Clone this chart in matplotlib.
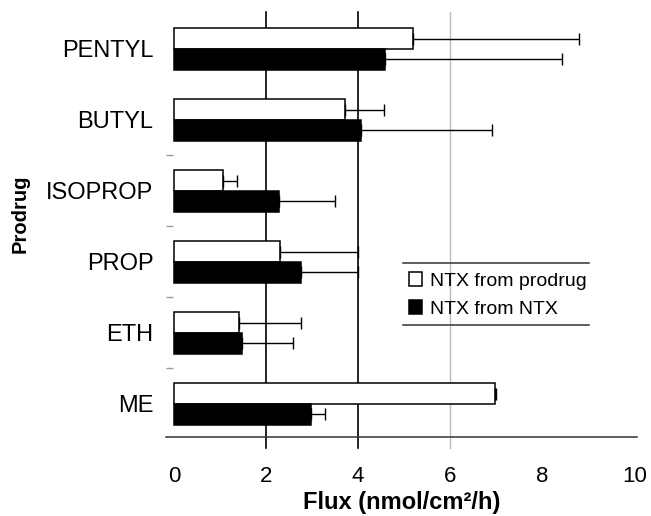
import numpy as np
import matplotlib
matplotlib.use("Agg")
import matplotlib.pyplot as plt

plt.rcParams['font.family'] = ['Liberation Sans', 'DejaVu Sans']

# data (bottom to top)
prodrugs = ["ME", "ETH", "PROP", "ISOPROP", "BUTYL", "PENTYL"]
ntx_from_prodrug = [6.96, 1.42, 2.30, 1.06, 3.71, 5.18]
ntx_from_prodrug_err = [0.03, 1.35, 1.70, 0.31, 0.86, 3.62]
ntx_from_ntx = [2.98, 1.47, 2.75, 2.29, 4.07, 4.58]
ntx_from_ntx_err = [0.29, 1.11, 1.25, 1.21, 2.83, 3.84]
x_ticks = [0, 2, 4, 6, 8, 10]

fig = plt.figure(figsize=(6.51, 5.16), dpi=100)
ax = fig.add_axes([166 / 651, 79 / 516, 471 / 651, 425 / 516])

y = np.arange(len(prodrugs))
h = 0.29
err_kw = dict(ecolor='black', elinewidth=1.0, capsize=4.3, capthick=1.0)

ax.barh(y + h / 2, ntx_from_prodrug, height=h, color='white', edgecolor='black',
        linewidth=1.1, xerr=[np.zeros(len(y)), ntx_from_prodrug_err],
        error_kw=err_kw, label='NTX from prodrug', zorder=3)
ax.barh(y - h / 2, ntx_from_ntx, height=h, color='black', edgecolor='black',
        linewidth=1.1, xerr=[np.zeros(len(y)), ntx_from_ntx_err],
        error_kw=err_kw, label='NTX from NTX', zorder=3)

# vertical reference lines
for v in [2, 4]:
    ax.axvline(v, ymin=-0.026, ymax=1, color='black', lw=1.2, clip_on=False, zorder=1)
ax.axvline(6, ymin=-0.026, ymax=1, color='#bbbbbb', lw=1.0, clip_on=False, zorder=1)

ax.set_xlim(-0.17, 10.05)
ax.set_ylim(-0.465, 5.52)
ax.set_xticks(x_ticks)
ax.set_yticks(y)
ax.set_yticklabels(prodrugs)
ax.set_yticks([0.5, 1.5, 2.5, 3.5], minor=True)

for s in ['top', 'right', 'left']:
    ax.spines[s].set_visible(False)
ax.spines['bottom'].set_linewidth(1.1)
ax.spines['bottom'].set_color('#333333')

ax.tick_params(axis='x', length=0, pad=21, labelsize=16)
ax.tick_params(axis='y', which='major', length=0, pad=9, labelsize=17)
ax.tick_params(axis='y', which='minor', length=5, width=1, direction='in', color='#999999')

ax.set_xlabel('Flux (nmol/cm²/h)', fontsize=17, fontweight='bold', labelpad=3)
ax.set_ylabel('Prodrug', fontsize=14.5, fontweight='bold')
ax.yaxis.set_label_coords(-0.289, 0.525)

# legend with rules above and below
leg = ax.legend(loc='center left', bbox_to_anchor=(0.516, 0.334), frameon=False,
                fontsize=14, handlelength=0.67, handleheight=0.72,
                handletextpad=0.4, labelspacing=0.55, borderpad=0, borderaxespad=0)
for yy in [0.409, 0.264]:
    ax.plot([0.503, 0.898], [yy, yy], color='#333333', lw=1.1,
            transform=ax.transAxes, clip_on=False)

fig.savefig('out.png', dpi=100)
